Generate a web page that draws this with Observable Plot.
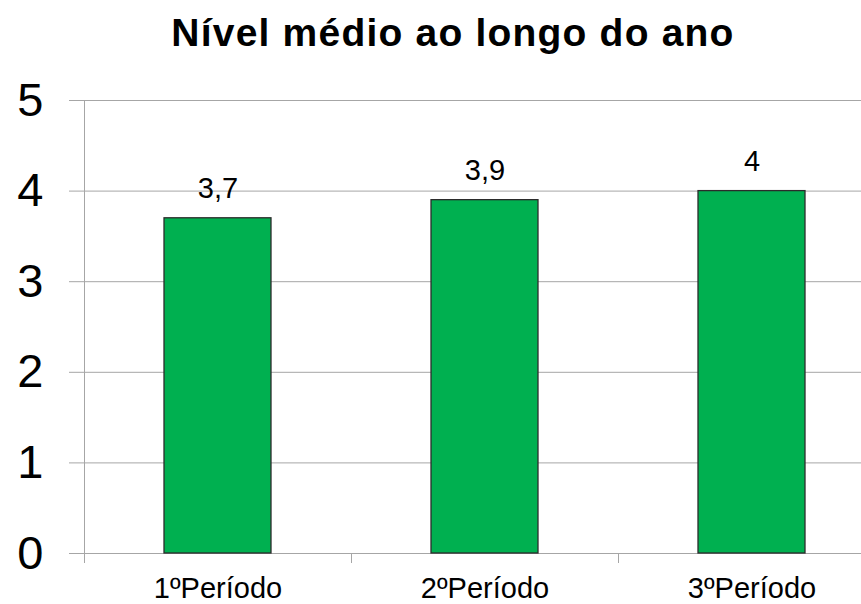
<!DOCTYPE html>
<html>
<head>
<meta charset="utf-8">
<script src="https://cdn.jsdelivr.net/npm/d3@7"></script>
<script src="https://cdn.jsdelivr.net/npm/@observablehq/plot@0.6"></script>
<style>
  html, body { margin: 0; padding: 0; background: #fff; }
  body { width: 861px; height: 604px; overflow: hidden; font-family: "Liberation Sans", Arial, sans-serif; }
  #title { position: relative; height: 70px; box-sizing: border-box; }
  #title span { position: absolute; left: 453px; top: 14px; transform: translateX(-50%); white-space: nowrap;
    font-size: 39px; line-height: 38px; font-weight: bold; letter-spacing: 1.2px; color: #000; }
</style>
</head>
<body>
<div id="title"><span>Nível médio ao longo do ano</span></div>
<div id="chart"></div>
<script>
const title = "Nível médio ao longo do ano";
const categories = ["1ºPeríodo", "2ºPeríodo", "3ºPeríodo"];
const values = [3.7, 3.9, 4];
const yTicks = [0, 1, 2, 3, 4, 5];
const valueLabels = ["3,7", "3,9", "4"];

const data = categories.map((c, i) => ({category: c, index: i, value: values[i], label: valueLabels[i]}));
const gridColor = "#a6a6a6";

const chart = Plot.plot({
  width: 861,
  height: 534,
  marginTop: 30,
  marginBottom: 51,
  marginLeft: 84,
  marginRight: 0,
  style: {fontFamily: "'Liberation Sans', Arial, sans-serif", color: "#000", background: "#fff"},
  x: {type: "linear", domain: [0, categories.length], range: [84, 885]},
  y: {domain: [0, 5]},
  marks: [
    Plot.gridY(yTicks, {stroke: gridColor, strokeOpacity: 1}),
    Plot.frame({anchor: "left", stroke: gridColor}),
    Plot.axisY(yTicks, {label: null, tickSize: 15, tickPadding: 26, stroke: gridColor, fill: "#000", fontSize: 47, tickFormat: d => String(d)}),
    Plot.axisX(categories.map((c, i) => i), {label: null, tickSize: 10, stroke: gridColor, tickFormat: () => ""}),
    Plot.axisX(categories.map((c, i) => i + 0.5), {label: null, tickSize: 0, tickPadding: 24, fill: "#000", fontSize: 29, tickFormat: d => categories[Math.floor(d)]}),
    Plot.rectY(data, {x1: d => d.index, x2: d => d.index + 1, y: "value", insetLeft: 80, insetRight: 80, fill: "#00B050", stroke: "#2b2b2b", strokeWidth: 1.3}),
    Plot.text(data, {x: d => d.index + 0.5, y: "value", text: "label", lineAnchor: "bottom", dy: -20, fontSize: 29, fill: "#000"})
  ]
});
document.getElementById("chart").appendChild(chart);
</script>
</body>
</html>
